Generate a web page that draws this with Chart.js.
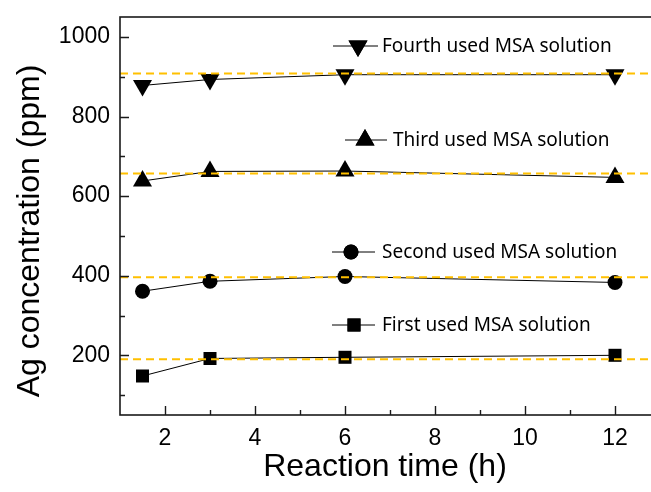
<!DOCTYPE html>
<html>
<head>
<meta charset="utf-8">
<script src="https://cdn.jsdelivr.net/npm/chart.js"></script>
<style>
  html, body { margin: 0; padding: 0; background: #fff; overflow: hidden; }
  #wrap { width: 651px; height: 492px; overflow: hidden; }
</style>
</head>
<body>
<div id="wrap"><canvas id="agChart" width="671" height="492"></canvas></div>
<script>
// reaction time (h)
const times = [1.5, 3, 6, 12];
// Ag concentration (ppm)
const firstUsed = [148, 192, 195, 200];
const secondUsed = [361, 386, 398, 383];
const thirdUsed = [638, 662, 663, 647];
const fourthUsed = [878, 893, 905, 905];
// orange reference levels
const refLevels = [190, 396, 657, 908];
const seriesNames = ["First used MSA solution", "Second used MSA solution", "Third used MSA solution", "Fourth used MSA solution"];
const xTickLabels = [2, 4, 6, 8, 10, 12];
const yTickLabels = [200, 400, 600, 800, 1000];

const pts = arr => arr.map((v, i) => ({ x: times[i], y: v }));

const markers = [
  { style: "rect", radius: 9.2, rotation: 0 },
  { style: "circle", radius: 7.5, rotation: 0 },
  { style: "triangle", radius: 11, rotation: 0 },
  { style: "triangle", radius: 11, rotation: 180 }
];

const refSets = refLevels.map(v => ({
  data: [{ x: 1, y: v }, { x: 13, y: v }],
  borderColor: "#ffc000",
  borderWidth: 2,
  borderDash: [8, 5],
  pointRadius: 0,
  fill: false
}));

const series = [firstUsed, secondUsed, thirdUsed, fourthUsed].map((arr, i) => ({
  label: seriesNames[i],
  data: pts(arr),
  borderColor: "#000",
  borderWidth: 1,
  backgroundColor: "#000",
  pointStyle: markers[i].style,
  pointRadius: markers[i].radius,
  pointRotation: markers[i].rotation,
  pointBorderWidth: 0,
  pointHoverRadius: markers[i].radius,
  fill: false
}));

// legend placement inside the plot (pixels)
const legendSpots = [
  { x0: 332, x1: 375, mx: 354, tx: 382, y: 325 },
  { x0: 332, x1: 375, mx: 351, tx: 382, y: 252 },
  { x0: 345, x1: 387, mx: 365, tx: 393, y: 140 },
  { x0: 333, x1: 378, mx: 358, tx: 382, y: 46 }
];

const framePlugin = {
  id: "frame",
  afterDraw(chart) {
    const { ctx, chartArea: a, scales } = chart;
    const xs = scales.x, ys = scales.y;
    ctx.save();
    ctx.strokeStyle = "#1a1a1a";
    ctx.lineWidth = 1.6;
    ctx.strokeRect(a.left, a.top, a.right - a.left, a.bottom - a.top);
    ctx.lineWidth = 1.4;
    ctx.beginPath();
    for (let v = 100; v <= 1000; v += 100) {
      const y = Math.round(ys.getPixelForValue(v)) + 0.5;
      const len = v % 200 === 0 ? 9 : 5;
      ctx.moveTo(a.left, y); ctx.lineTo(a.left + len, y);
    }
    for (let v = 2; v <= 12; v++) {
      const x = Math.round(xs.getPixelForValue(v)) + 0.5;
      const len = v % 2 === 0 ? 9 : 5;
      ctx.moveTo(x, a.bottom); ctx.lineTo(x, a.bottom - len);
    }
    ctx.stroke();

    // axis titles
    ctx.fillStyle = "#000";
    ctx.font = "32px 'Liberation Sans', Arial, sans-serif";
    ctx.textAlign = "center";
    ctx.textBaseline = "alphabetic";
    ctx.fillText("Reaction time (h)", 385, 476);
    ctx.save();
    ctx.translate(39, 231);
    ctx.rotate(-Math.PI / 2);
    ctx.fillText("Ag concentration (ppm)", 0, 0);
    ctx.restore();

    // in-plot legend
    ctx.textAlign = "left";
    ctx.textBaseline = "middle";
    ctx.font = "19px 'Noto Sans', 'DejaVu Sans', sans-serif";
    legendSpots.forEach((s, i) => {
      ctx.strokeStyle = "#000";
      ctx.lineWidth = 1;
      ctx.beginPath();
      ctx.moveTo(s.x0, s.y); ctx.lineTo(s.x1, s.y);
      ctx.stroke();
      ctx.fillStyle = "#000";
      Chart.helpers.drawPoint(ctx, {
        pointStyle: markers[i].style,
        radius: markers[i].radius,
        rotation: markers[i].rotation,
        borderWidth: 0
      }, s.mx, s.y);
      ctx.fill();
      ctx.fillStyle = "#000";
      ctx.fillText(seriesNames[i], s.tx, s.y + 1);
    });
    ctx.restore();
  }
};

new Chart(document.getElementById("agChart"), {
  type: "line",
  data: { datasets: [...refSets, ...series] },
  options: {
    responsive: false,
    animation: false,
    devicePixelRatio: 1,
    layout: { padding: { top: 17, right: 4, left: 0, bottom: 0 } },
    plugins: { legend: { display: false }, tooltip: { enabled: false } },
    scales: {
      x: {
        type: "linear",
        min: 1, max: 13,
        grid: { display: false, drawTicks: false },
        border: { display: false },
        afterFit: s => { s.height = 77; s.paddingLeft = 0; s.paddingRight = 0; },
        ticks: {
          stepSize: 1,
          padding: 10,
          maxRotation: 0,
          autoSkip: false,
          color: "#000",
          font: { family: "'Liberation Sans', Arial, sans-serif", size: 23 },
          callback: v => xTickLabels.includes(v) ? String(v) : ""
        }
      },
      y: {
        type: "linear",
        min: 50, max: 1050,
        grid: { display: false, drawTicks: false },
        border: { display: false },
        afterFit: s => { s.width = 120; s.paddingTop = 0; s.paddingBottom = 0; },
        ticks: {
          stepSize: 50,
          padding: 10,
          autoSkip: false,
          color: "#000",
          font: { family: "'Liberation Sans', Arial, sans-serif", size: 23 },
          callback: v => yTickLabels.includes(v) ? String(v) : ""
        }
      }
    }
  },
  plugins: [framePlugin]
});
</script>
</body>
</html>
